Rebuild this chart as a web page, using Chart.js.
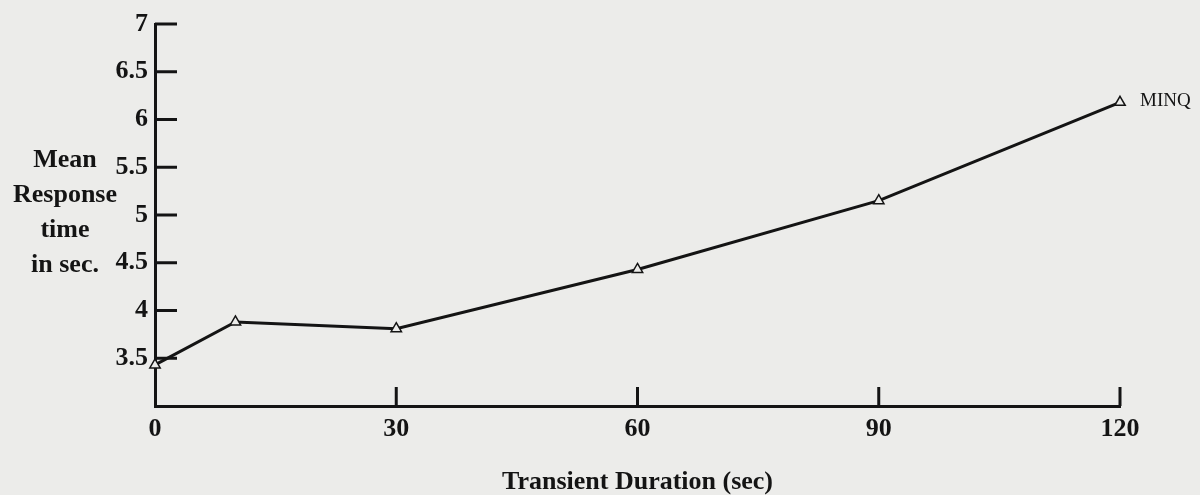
<!DOCTYPE html>
<html lang="en">
<head>
    <meta charset="UTF-8">
    <title>Mean Response time vs Transient Duration</title>
    <style>
        html, body { margin: 0; padding: 0; background: #ececea; }
        #wrap { width: 1200px; height: 495px; }
    </style>
</head>
<body>
    <div id="wrap"><canvas id="chart" width="1200" height="495"></canvas></div>

    <script src="https://cdn.jsdelivr.net/npm/chart.js"></script>
    <script>
        // values
        const durations = [0, 10, 30, 60, 90, 120];
        const responseTimes = [3.43, 3.88, 3.81, 4.43, 5.15, 6.18];
        const seriesName = 'MINQ';
        const yTitleLines = ['Mean', 'Response', 'time', 'in sec.'];
        const xTitle = 'Transient Duration (sec)';

        const serif = "'Liberation Serif', 'Times New Roman', serif";
        const ink = '#141414';

        // short tick marks drawn inside the axes, plus the y title and series label
        const decorations = {
            id: 'decorations',
            afterDraw(chart) {
                const ctx = chart.ctx;
                const x = chart.scales.x, y = chart.scales.y;
                ctx.save();
                ctx.strokeStyle = ink;
                ctx.lineWidth = 3;
                x.ticks.forEach(t => {
                    if (t.value === x.min) return;
                    const px = x.getPixelForValue(t.value);
                    ctx.beginPath();
                    ctx.moveTo(px, y.bottom);
                    ctx.lineTo(px, y.bottom - 19);
                    ctx.stroke();
                });
                y.ticks.forEach(t => {
                    if (t.value === y.min) return;
                    const py = y.getPixelForValue(t.value);
                    ctx.beginPath();
                    ctx.moveTo(x.left, py);
                    ctx.lineTo(x.left + 22, py);
                    ctx.stroke();
                });

                // y title, four centred lines
                ctx.fillStyle = ink;
                ctx.font = 'bold 26px ' + serif;
                ctx.textAlign = 'center';
                ctx.textBaseline = 'middle';
                yTitleLines.forEach((line, i) => {
                    ctx.fillText(line, 65, 160 + i * 35);
                });

                // series name next to the last point
                const last = durations.length - 1;
                ctx.font = '19px ' + serif;
                ctx.textAlign = 'left';
                ctx.fillText(seriesName,
                    x.getPixelForValue(durations[last]) + 20,
                    y.getPixelForValue(responseTimes[last]) - 1);
                ctx.restore();
            }
        };

        const ctx = document.getElementById('chart').getContext('2d');
        const myChart = new Chart(ctx, {
            type: 'line',
            data: {
                labels: durations,
                datasets: [{
                    label: seriesName,
                    data: durations.map((d, i) => ({ x: d, y: responseTimes[i] })),
                    borderColor: ink,
                    borderWidth: 3,
                    pointStyle: 'triangle',
                    pointRadius: 6,
                    pointBorderWidth: 1.5,
                    pointBorderColor: ink,
                    pointBackgroundColor: '#ececea',
                    tension: 0,
                    clip: false
                }]
            },
            options: {
                responsive: false,
                animation: false,
                layout: { padding: { top: 24, right: 80, left: 0, bottom: 0 } },
                plugins: {
                    legend: { display: false },
                    tooltip: { enabled: false }
                },
                scales: {
                    x: {
                        type: 'linear',
                        min: 0,
                        max: 120,
                        afterFit: s => { s.height = 89; },
                        grid: { display: false, drawTicks: false },
                        border: { display: true, color: ink, width: 3 },
                        ticks: {
                            stepSize: 30,
                            padding: 8,
                            color: ink,
                            font: { family: serif, size: 26, weight: 'bold' }
                        },
                        title: {
                            display: true,
                            text: xTitle,
                            color: ink,
                            padding: 0,
                            font: { family: serif, size: 26, weight: 'bold', lineHeight: 1 }
                        }
                    },
                    y: {
                        min: 3,
                        max: 7,
                        afterFit: s => { s.width = 155; },
                        grid: { display: false, drawTicks: false },
                        border: { display: true, color: ink, width: 3 },
                        ticks: {
                            stepSize: 0.5,
                            padding: 7,
                            color: ink,
                            font: { family: serif, size: 26, weight: 'bold' },
                            callback: function(value) {
                                return value === 3 ? '' : value;
                            }
                        }
                    }
                }
            },
            plugins: [decorations]
        });
    </script>
</body>
</html>
